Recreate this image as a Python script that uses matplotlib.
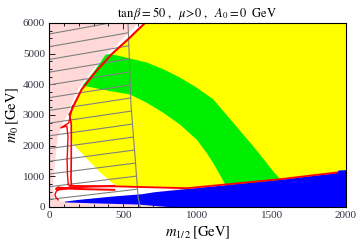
import matplotlib
matplotlib.use("Agg")
import matplotlib.pyplot as plt
import numpy as np
from matplotlib.ticker import MultipleLocator

plt.rcParams['mathtext.fontset'] = 'stix'
plt.rcParams['font.family'] = ['Liberation Serif', 'DejaVu Serif']

# ---------------- data (m_1/2 [GeV], m_0 [GeV]) ----------------
# red boundary line (upper left)
b_x = [646, 534, 422, 310, 220, 164, 139]
b_y = [6000, 5476, 4984, 4384, 3836, 3290, 3017]

# white region
white_x = [600, 495, 385, 280, 195, 145, 125, 94, 61, 49, 38, 27, 35, 60, 110, 620, 900, 1200, 1200]
white_y = [6000, 5476, 4984, 4384, 3836, 3290, 3017, 2744, 2306, 1869, 1322, 666, 300, 200, 175, 420, 620, 620, 6000]

# yellow region
yel_x = [646, 534, 422, 310, 220, 164, 152, 148, 160, 340, 420, 470, 927, 1556, 1937, 2000, 2000]
yel_y = [6000, 5476, 4984, 4384, 3836, 3290, 3000, 2300, 2050, 1150, 800, 660, 600, 890, 1110, 1200, 6000]

# green band
grn_out_x = [400, 470, 545, 658, 770, 882, 995, 1106, 1174, 1241, 1308, 1376, 1421, 1466, 1510, 1556, 1570]
grn_out_y = [4990, 4930, 4843, 4712, 4492, 4220, 3892, 3509, 3125, 2744, 2361, 1977, 1705, 1433, 1158, 907, 880]
grn_in_x = [1185, 1185, 1151, 1106, 1062, 995, 882, 770, 658, 545, 400, 242, 225]
grn_in_y = [700, 754, 1049, 1433, 1761, 2197, 2689, 3072, 3400, 3670, 3790, 3945, 3960]
grn_left_x = [300, 380]
grn_left_y = [4400, 4960]

# blue region
blue_top_x = [108, 197, 422, 624, 714, 927, 1556, 1937, 1950, 2000]
blue_top_y = [175, 230, 338, 415, 482, 585, 885, 1104, 1190, 1200]
blue_bot_x = [2000, 800, 600, 300, 108]
blue_bot_y = [0, 0, 80, 120, 150]

# red lines
red_h_x = [140, 480, 927, 1556, 1937]
red_h_y = [690, 670, 612, 907, 1125]
red_v1_x = [139, 150, 150, 148, 152]
red_v1_y = [3017, 2700, 1600, 900, 700]
red_v2_x = [160, 133, 79, 120, 128, 122, 125, 130]
red_v2_y = [3300, 2744, 2580, 2640, 2300, 1500, 1000, 720]
red_low1_x = [440, 250, 120, 60, 47, 60, 150, 440]
red_low1_y = [560, 580, 600, 640, 590, 560, 640, 690]
red_low2_x = [80, 50, 40, 48, 62]
red_low2_y = [620, 520, 400, 300, 230]

# hatch: boundary line and left-axis intercepts of diagonal lines
hb_x = [532, 552, 600, 613]
hb_y = [6000, 3345, 338, 0]
hatch_y0 = [5640, 5225, 4810, 4395, 3980, 3565, 3150, 2735, 2320, 1905, 1490, 1075, 660, 245]

# ---------------- figure ----------------
fig = plt.figure(figsize=(3.6, 2.48), dpi=100)
ax = fig.add_axes([49/360, 1-207/248, 297/360, 184/248])
ax.set_xlim(0, 2000)
ax.set_ylim(0, 6000)
ax.set_facecolor('#FFD8D8')

ax.fill(white_x, white_y, color='white', lw=0, zorder=1)
ax.fill(yel_x, yel_y, color='#FFFF00', lw=0, zorder=2)
ax.fill(grn_out_x + grn_in_x + grn_left_x, grn_out_y + grn_in_y + grn_left_y,
        color='#00EE00', lw=0, zorder=3)
ax.fill(blue_top_x + blue_bot_x, blue_top_y + blue_bot_y, color='#0000FF', lw=0, zorder=4)

# hatching
hb_x_arr = np.array(hb_x, float)
hb_y_arr = np.array(hb_y, float)
for y0 in hatch_y0:
    s = 0.55 + 0.35 * (y0 / 6000.0)
    xs = np.linspace(0, 700, 400)
    ys = y0 + s * xs
    xb = np.interp(ys, hb_y_arr[::-1], hb_x_arr[::-1])
    m = (xs <= xb) & (ys <= 6000)
    ax.plot(xs[m], ys[m], color='#808080', lw=0.8, zorder=5)
ax.plot(hb_x, hb_y, color='#808080', lw=0.8, zorder=5)

# red lines
for xx, yy, lw in [(b_x, b_y, 1.5), (red_h_x, red_h_y, 1.3), (red_v1_x, red_v1_y, 1.2),
                   (red_v2_x, red_v2_y, 1.0), (red_low1_x, red_low1_y, 1.4),
                   (red_low2_x, red_low2_y, 1.0)]:
    ax.plot(xx, yy, color='#FF0000', lw=lw, zorder=6, solid_joinstyle='round')

# ticks
ax.xaxis.set_major_locator(MultipleLocator(500))
ax.xaxis.set_minor_locator(MultipleLocator(100))
ax.yaxis.set_major_locator(MultipleLocator(1000))
ax.yaxis.set_minor_locator(MultipleLocator(250))
ax.tick_params(which='both', direction='in', top=True, right=True, colors='black',
               labelcolor='#333344', labelsize=8, width=0.6)
ax.tick_params(which='major', length=4, pad=3)
ax.tick_params(which='minor', length=2)
for sp in ax.spines.values():
    sp.set_linewidth(0.8)
    sp.set_zorder(10)

ax.set_xlabel(r'$m_{1/\,2}\,[\mathrm{GeV}]$', fontsize=10.5, labelpad=3)
ax.set_ylabel(r'$m_0\,[\mathrm{GeV}]$', fontsize=10.5, labelpad=1)
ax.set_title(r'$\tan\beta = 50\ ,\ \ \mu\!>\!0\ ,\ \ A_0 = 0\ \ \mathrm{GeV}$', fontsize=9, pad=4)

fig.savefig('out.png', dpi=100)
